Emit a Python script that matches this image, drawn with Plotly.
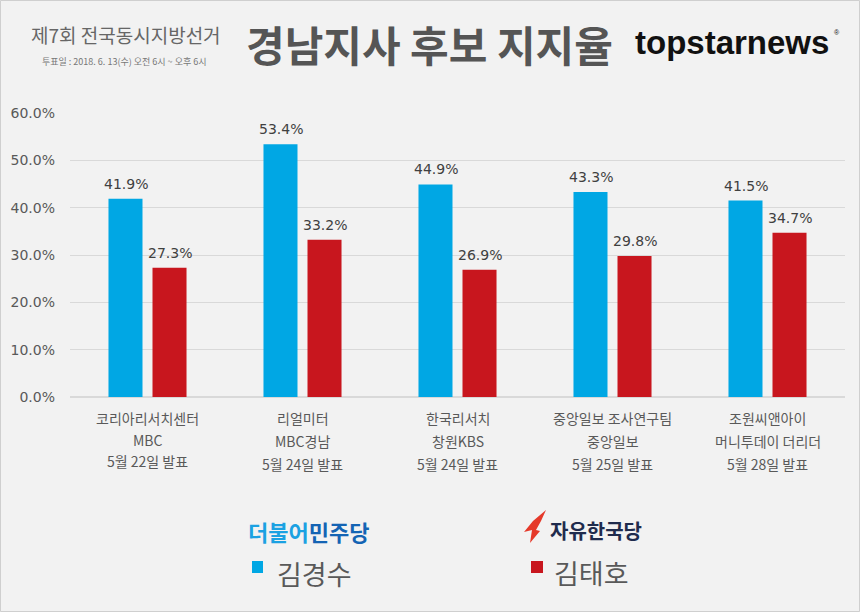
import plotly.graph_objects as go

# ---- data ----
pollsters = ["코리아리서치센터", "리얼미터", "한국리서치", "중앙일보 조사연구팀", "조원씨앤아이"]
clients = ["MBC", "MBC경남", "창원KBS", "중앙일보", "머니투데이 더리더"]
dates = ["5월 22일 발표", "5월 24일 발표", "5월 24일 발표", "5월 25일 발표", "5월 28일 발표"]
kim_ks = [41.9, 53.4, 44.9, 43.3, 41.5]   # 김경수 (더불어민주당)
kim_th = [27.3, 33.2, 26.9, 29.8, 34.7]   # 김태호 (자유한국당)
y_ticks = [0, 10, 20, 30, 40, 50, 60]
y_ticktext = [f"{v:.1f}%" for v in y_ticks]

BLUE = "#00a7e4"
RED = "#c8161e"
BG = "#f2f2f2"
KR = "Noto Sans CJK KR"
NUM = "DejaVu Sans"

# plot area in pixels
L, R, T, B = 70, 845, 113, 397
W, H = R - L, B - T


def px(x):
    return (x - L) / W


def py(y):
    return (B - y) / H


fig = go.Figure()
fig.add_trace(go.Bar(x=pollsters, y=kim_ks, name="김경수",
                     marker=dict(color=BLUE, line=dict(width=0))))
fig.add_trace(go.Bar(x=pollsters, y=kim_th, name="김태호",
                     marker=dict(color=RED, line=dict(width=0))))

annotations = []
# value labels above bars
for series, shift in ((kim_ks, -22), (kim_th, 22)):
    for cat, v in zip(pollsters, series):
        annotations.append(dict(
            x=cat, xref="x", y=v, yref="y", text=f"{v:.1f}%", showarrow=False,
            xanchor="center", yanchor="middle", xshift=shift, yshift=15,
            font=dict(family=NUM, size=14, color="#404040"),
        ))

# category labels (3 lines each)
for i, cat in enumerate(pollsters):
    offs = [21, 44, 67] if i > 0 else [21, 43, 64]
    for line, off in zip([pollsters[i], clients[i], dates[i]], offs):
        annotations.append(dict(
            x=cat, xref="x", y=py(B + off), yref="paper", text=line, showarrow=False,
            xanchor="center", yanchor="middle",
            font=dict(family=KR, size=14, color="#595959"),
        ))

# header texts
annotations += [
    dict(x=px(29), y=py(35), xref="paper", yref="paper", text="제7회 전국동시지방선거",
         showarrow=False, xanchor="left", yanchor="middle",
         font=dict(family=KR, size=19, color="#666666")),
    dict(x=px(40), y=py(61), xref="paper", yref="paper",
         text="투표일 : 2018. 6. 13(수) 오전 6시 ~ 오후 6시",
         showarrow=False, xanchor="left", yanchor="middle",
         font=dict(family=KR, size=9, color="#777777")),
    dict(x=px(429), y=py(43), xref="paper", yref="paper",
         text="<b>경남지사 후보 지지율</b>",
         showarrow=False, xanchor="center", yanchor="middle",
         font=dict(family=KR, size=42, color="#555555")),
    dict(x=px(633), y=py(42), xref="paper", yref="paper", text="<b>topstarnews</b>",
         showarrow=False, xanchor="left", yanchor="middle",
         font=dict(family="Liberation Sans", size=33, color="#111111")),
    dict(x=px(832), y=py(33), xref="paper", yref="paper", text="®",
         showarrow=False, xanchor="left", yanchor="middle",
         font=dict(family="Liberation Sans", size=7, color="#111111")),
    # legend block
    dict(x=px(246), y=py(531), xref="paper", yref="paper",
         text="<b><span style='color:#1ba1e2'>더불어</span><span style='color:#1464b4'>민주당</span></b>",
         showarrow=False, xanchor="left", yanchor="middle",
         font=dict(family=KR, size=22, color="#1464b4")),
    dict(x=px(275), y=py(573), xref="paper", yref="paper", text="김경수",
         showarrow=False, xanchor="left", yanchor="middle",
         font=dict(family=KR, size=27, color="#595959")),
    dict(x=px(548), y=py(530), xref="paper", yref="paper", text="<b>자유한국당</b>",
         showarrow=False, xanchor="left", yanchor="middle",
         font=dict(family=KR, size=20, color="#1f2b4d")),
    dict(x=px(552), y=py(572), xref="paper", yref="paper", text="김태호",
         showarrow=False, xanchor="left", yanchor="middle",
         font=dict(family=KR, size=27, color="#595959")),
]


def path(points):
    return "M " + " L ".join(f"{px(x):.5f},{py(y):.5f}" for x, y in points) + " Z"


shapes = [
    # outer frame
    dict(type="rect", xref="paper", yref="paper", x0=px(0.5), x1=px(859.5), y0=py(611.5), y1=py(0.5),
         line=dict(color="#cfcfcf", width=1), fillcolor="rgba(0,0,0,0)", layer="below"),
    # legend squares
    dict(type="rect", xref="paper", yref="paper", x0=px(252), x1=px(263), y0=py(573), y1=py(561),
         line=dict(width=0), fillcolor=BLUE),
    dict(type="rect", xref="paper", yref="paper", x0=px(531), x1=px(543), y0=py(573), y1=py(561),
         line=dict(width=0), fillcolor=RED),
    # flame mark
    dict(type="path", xref="paper", yref="paper",
         path=path([(546, 510), (533, 521), (524, 532), (532, 530), (530, 543),
                    (540, 531), (536, 530), (541, 521)]),
         line=dict(width=0), fillcolor="#e5392a"),
]

fig.update_layout(
    width=860, height=612,
    margin=dict(l=L, r=860 - R, t=T, b=612 - B, pad=0),
    paper_bgcolor=BG, plot_bgcolor=BG,
    barmode="group", bargap=0.432, bargroupgap=0.227,
    showlegend=False,
    annotations=annotations, shapes=shapes,
    font=dict(family=KR),
)
fig.update_xaxes(showticklabels=False, showgrid=False, showline=False, zeroline=False, ticks="")
fig.update_yaxes(
    range=[0, 60], tickmode="array", tickvals=y_ticks, ticktext=y_ticktext,
    showgrid=True, gridcolor="#d9d9d9", gridwidth=1, zeroline=True, zerolinecolor="#d9d9d9",
    showline=False, ticks="", ticklabelstandoff=14,
    tickfont=dict(family=NUM, size=14, color="#595959"),
)

fig.write_html(
    "out.html",
    config={"displayModeBar": False},
    post_script="document.body.style.margin='0';document.body.style.overflow='hidden';",
)
